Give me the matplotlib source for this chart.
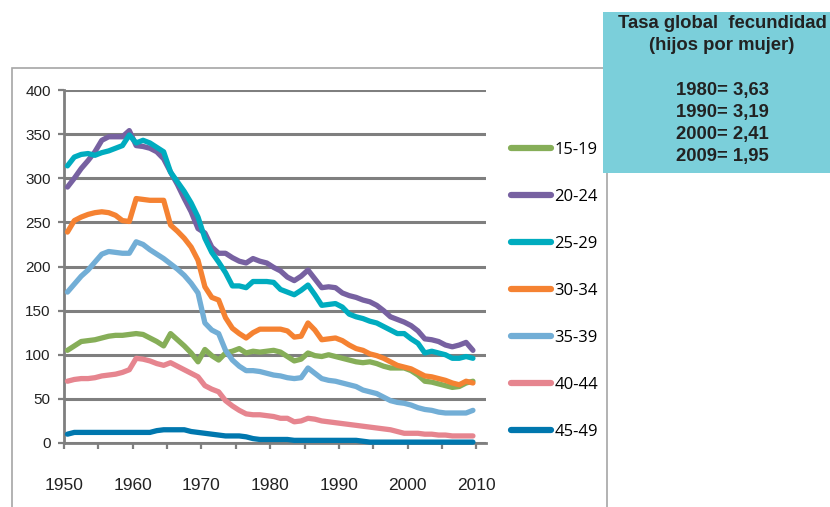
import numpy as np
import matplotlib
matplotlib.use("Agg")
import matplotlib.pyplot as plt
from matplotlib.patches import Rectangle
from matplotlib.ticker import MultipleLocator

# Tasas de fecundidad por edad (nacimientos por 1000 mujeres), 1950-2009
years = list(range(1950, 2010))

g15 = [105, 110, 115, 116, 117, 119, 121, 122, 122, 123,
       124, 123, 119, 115, 110, 124, 117, 110, 102, 92,
       106, 99, 94, 102, 104, 107, 102, 104, 103, 104,
       105, 103, 98, 93, 95, 102, 99, 98, 100, 98,
       96, 94, 92, 91, 92, 90, 87, 85, 85, 85,
       82, 77, 70, 69, 67, 65, 63, 64, 68, 70]
g20 = [290, 300, 311, 320, 330, 343, 347, 347, 347, 354,
       337, 336, 334, 330, 322, 307, 293, 277, 262, 243,
       238, 222, 215, 215, 210, 206, 204, 209, 206, 204,
       199, 195, 188, 184, 189, 196, 186, 176, 177, 176,
       170, 167, 165, 162, 160, 156, 150, 143, 140, 137,
       133, 127, 118, 117, 115, 111, 109, 111, 114, 105]
g25 = [314, 324, 327, 328, 326, 329, 331, 334, 337, 349,
       340, 343, 340, 335, 330, 307, 296, 285, 272, 256,
       232, 216, 205, 193, 178, 178, 176, 183, 183, 183,
       182, 174, 171, 168, 173, 179, 168, 156, 157, 158,
       154, 146, 143, 141, 138, 136, 132, 128, 124, 124,
       118, 113, 102, 104, 102, 100, 96, 96, 98, 96]
g30 = [239, 252, 256, 259, 261, 262, 261, 258, 252, 251,
       277, 276, 275, 275, 275, 247, 240, 232, 222, 207,
       177, 165, 162, 142, 130, 124, 119, 125, 129, 129,
       129, 129, 127, 120, 121, 136, 128, 117, 118, 119,
       116, 111, 107, 105, 101, 99, 96, 92, 88, 86,
       84, 80, 76, 75, 73, 71, 68, 66, 70, 68]
g35 = [171, 180, 189, 196, 205, 214, 217, 216, 215, 215,
       228, 225, 219, 214, 209, 203, 197, 190, 181, 170,
       136, 128, 124, 105, 94, 87, 82, 82, 81, 79,
       77, 76, 74, 73, 74, 85, 79, 73, 71, 70,
       68, 66, 64, 60, 58, 56, 52, 48, 46, 45,
       43, 40, 38, 37, 35, 34, 34, 34, 34, 37]
g40 = [70, 72, 73, 73, 74, 76, 77, 78, 80, 83,
       96, 95, 93, 90, 88, 91, 87, 83, 79, 75,
       65, 61, 58, 48, 42, 37, 33, 32, 32, 31,
       30, 28, 28, 24, 25, 28, 27, 25, 24, 23,
       22, 21, 20, 19, 18, 17, 16, 15, 13, 11,
       11, 11, 10, 10, 9, 9, 8, 8, 8, 8]
g45 = [10, 12, 12, 12, 12, 12, 12, 12, 12, 12,
       12, 12, 12, 14, 15, 15, 15, 15, 13, 12,
       11, 10, 9, 8, 8, 8, 7, 5, 4, 4,
       4, 4, 4, 3, 3, 3, 3, 3, 3, 3,
       3, 3, 3, 2, 1, 1, 1, 1, 1, 1,
       1, 1, 1, 1, 1, 1, 1, 1, 1, 1]

labels = ["15-19", "20-24", "25-29", "30-34", "35-39", "40-44", "45-49"]
colors = ["#86AE58", "#7761A1", "#00ACBF", "#F58232", "#72AED6", "#E6858F", "#0077AE"]
series = [g15, g20, g25, g30, g35, g40, g45]

tfr_lines = ["1980= 3,63", "1990= 3,19", "2000= 2,41", "2009= 1,95"]

W, H = 830, 507
fig = plt.figure(figsize=(W / 100, H / 100), dpi=100)

# marco exterior del grafico
fig.patches.append(Rectangle((12 / W, -0.02), (607 - 12) / W, 1.02 - 68 / H,
                             transform=fig.transFigure, fill=False,
                             edgecolor="#A6A6A6", lw=1.2, zorder=0))

ax = fig.add_axes([64 / W, 1 - 443 / H, (486 - 64) / W, (443 - 90) / H])
ax.patch.set_alpha(0)

x = np.array(years) + 0.5   # categorias centradas entre marcas
for vals, lab, col in zip(series, labels, colors):
    ax.plot(x, vals, color=col, lw=3.8, label=lab, solid_capstyle="round",
            solid_joinstyle="round", clip_on=False, zorder=3)

ax.set_xlim(1950, 2011.4)
ax.set_ylim(0, 400)
ax.yaxis.set_major_locator(MultipleLocator(50))
ax.xaxis.set_minor_locator(MultipleLocator(5))
ax.set_xticks([1950, 1960, 1970, 1980, 1990, 2000, 2010])

ax.grid(axis="y", color="#7F7F7F", lw=2.2, zorder=1)
ax.set_axisbelow(True)
for s in ["top", "right"]:
    ax.spines[s].set_visible(False)
for s in ["left", "bottom"]:
    ax.spines[s].set_color("#7F7F7F")
    ax.spines[s].set_linewidth(2.0)

ax.tick_params(axis="y", direction="out", length=4.5, width=1.6, color="#7F7F7F",
               pad=5, labelsize=11, labelcolor="#222222")
ax.tick_params(axis="x", which="both", direction="out", length=4.5, width=1.6,
               color="#7F7F7F", pad=21, labelsize=12.5, labelcolor="#222222")
for t in ax.get_xticklabels() + ax.get_yticklabels():
    t.set_family("Liberation Sans")

leg = ax.legend(loc="upper left", bbox_to_anchor=(511 / W, 1 - 142 / H),
                bbox_transform=fig.transFigure, frameon=False, borderpad=0,
                borderaxespad=0, handlelength=2.4, handletextpad=0.2,
                labelspacing=1.86, prop={"family": "Open Sans", "size": 12})
for h in leg.get_lines():
    h.set_linewidth(4.5)
    h.set_solid_capstyle("round")

# recuadro con la tasa global de fecundidad
fig.patches.append(Rectangle((603 / W, 1 - 173 / H), (W - 603) / W, (173 - 12) / H,
                             transform=fig.transFigure, facecolor="#7BCFDA",
                             edgecolor="none", zorder=5))
box_font = dict(family="Liberation Sans", weight="bold", size=13.3,
                color="#222222", ha="center", va="center", zorder=6)
fig.text(722 / W, 1 - 23 / H, "Tasa global  fecundidad", **box_font)
fig.text(722 / W, 1 - 46 / H, "(hijos por mujer)", **box_font)
for i, line in enumerate(tfr_lines):
    fig.text(722 / W, 1 - (91 + 21.7 * i) / H, line, **box_font)

fig.savefig("out.png", dpi=100)
